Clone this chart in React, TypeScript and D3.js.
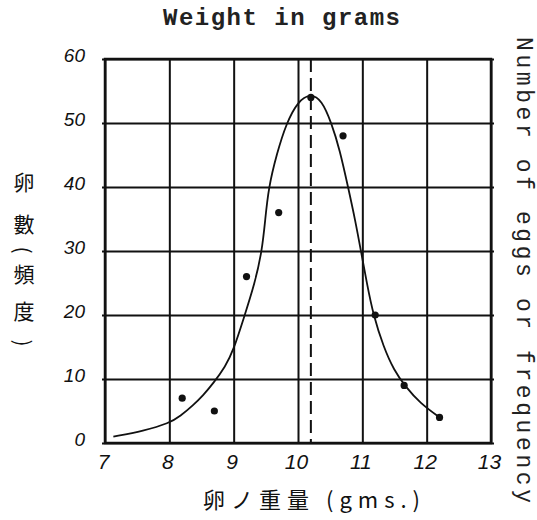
import React, { useEffect, useRef } from 'react';
import * as d3 from 'd3';

// observed egg weights (g) and number of eggs
const weights = [8.2, 8.7, 9.2, 9.7, 10.2, 10.7, 11.2, 11.65, 12.2];
const counts = [7, 5, 26, 36, 54, 48, 20, 9, 4];

// hand drawn frequency curve
const curveWeights = [7.13, 7.6, 8.0, 8.17, 8.37, 8.53, 8.68, 8.87, 9.0, 9.15, 9.33, 9.44, 9.49, 9.54, 9.67, 9.82, 10.0, 10.19, 10.37, 10.52, 10.65, 10.78, 10.89, 10.98, 11.07, 11.17, 11.33, 11.49, 11.67, 11.9, 12.2];
const curveCounts = [1.0, 1.9, 3.1, 4.2, 5.9, 7.5, 9.3, 11.9, 14.6, 19.3, 25, 30, 34.8, 39.8, 45.2, 50, 53.4, 54.6, 53.6, 50, 45.8, 39.9, 34.8, 29.9, 25, 20, 15, 11.4, 8.8, 6.2, 4.0];

const meanWeight = 10.2;

const xTicks = [7, 8, 9, 10, 11, 12, 13];
const yTicks = [0, 10, 20, 30, 40, 50, 60];

const title = 'Weight in grams';
const rightLabel = 'Number of eggs or frequency';
const xLabel = '卵ノ重量 (gms.)';
const yLabelChars = ['卵', '數', '(', '頻', '度', ')'];

const width = 537;
const height = 520;
const margin = { top: 59, right: 46, bottom: 77, left: 105 };

const handFont = '"Liberation Sans", sans-serif';
const monoFont = '"Liberation Mono", "DejaVu Sans Mono", monospace';
const cjkFont = '"Noto Sans CJK JP", sans-serif';

const App = () => {
  const ref = useRef(null);

  useEffect(() => {
    const innerWidth = width - margin.left - margin.right;
    const innerHeight = height - margin.top - margin.bottom;

    const svgRef = d3.select(ref.current);
    svgRef.selectAll('*').remove();

    const x = d3.scaleLinear().domain([7, 13]).range([0, innerWidth]);
    const y = d3.scaleLinear().domain([0, 60]).range([innerHeight, 0]);

    svgRef.append('rect').attr('width', width).attr('height', height).attr('fill', '#fff');

    const svg = svgRef.append('g').attr('transform', `translate(${margin.left}, ${margin.top})`);

    // vertical grid + x labels
    const xAxis = svg.append('g')
      .attr('transform', `translate(0, ${innerHeight})`)
      .call(d3.axisBottom(x).tickValues(xTicks).tickFormat(d3.format('d'))
        .tickSize(-innerHeight).tickSizeOuter(0).tickPadding(11));
    xAxis.select('.domain').remove();
    xAxis.selectAll('line').attr('stroke', '#111').attr('stroke-width', 2);
    xAxis.selectAll('text')
      .attr('fill', '#111')
      .attr('font-family', handFont)
      .attr('font-style', 'italic')
      .attr('font-size', 21)
      .attr('dx', -2);

    // horizontal grid + y labels
    const yAxis = svg.append('g')
      .call(d3.axisLeft(y).tickValues(yTicks).tickSize(-innerWidth - 3).tickSizeOuter(0).tickPadding(20));
    yAxis.select('.domain').remove();
    yAxis.selectAll('line').attr('stroke', '#111').attr('stroke-width', 2).attr('x1', -3);
    yAxis.selectAll('text')
      .attr('fill', '#111')
      .attr('font-family', handFont)
      .attr('font-style', 'italic')
      .attr('font-size', 19)
      .attr('dy', '0.15em');

    // frame
    svg.append('rect')
      .attr('width', innerWidth)
      .attr('height', innerHeight)
      .attr('fill', 'none')
      .attr('stroke', '#111')
      .attr('stroke-width', 2.5);

    // mean weight, dashed
    svg.append('line')
      .attr('x1', x(meanWeight)).attr('x2', x(meanWeight))
      .attr('y1', y(60)).attr('y2', y(0))
      .attr('stroke', '#111')
      .attr('stroke-width', 2)
      .attr('stroke-dasharray', '13,6');

    // frequency curve (basis smooths the hand readings)
    const line = d3.line()
      .x((d) => x(d[0]))
      .y((d) => y(d[1]))
      .curve(d3.curveBasis);
    svg.append('path')
      .datum(curveWeights.map((w, i) => [w, curveCounts[i]]))
      .attr('fill', 'none')
      .attr('stroke', '#111')
      .attr('stroke-width', 1.8)
      .attr('d', line);

    // observed points
    svg.selectAll('.pt')
      .data(weights.map((w, i) => [w, counts[i]]))
      .join('circle')
      .attr('cx', (d) => x(d[0]))
      .attr('cy', (d) => y(d[1]))
      .attr('r', 3.6)
      .attr('fill', '#111');

    // title
    svgRef.append('text')
      .attr('x', 163)
      .attr('y', 25)
      .attr('textLength', 237)
      .attr('lengthAdjust', 'spacing')
      .attr('font-family', monoFont)
      .attr('font-weight', 'bold')
      .attr('font-size', 24)
      .attr('fill', '#222')
      .text(title);

    // right label, rotated
    svgRef.append('text')
      .attr('transform', `translate(517, 37) rotate(90)`)
      .attr('textLength', 466)
      .attr('lengthAdjust', 'spacing')
      .attr('font-family', monoFont)
      .attr('font-size', 23)
      .attr('fill', '#222')
      .text(rightLabel);

    // x label
    svgRef.append('text')
      .attr('x', 203)
      .attr('y', 508)
      .attr('textLength', 217)
      .attr('lengthAdjust', 'spacing')
      .attr('font-family', cjkFont)
      .attr('font-size', 22)
      .attr('fill', '#111')
      .text(xLabel);

    // y label, vertical (brackets turned sideways)
    const yLabelPos = [181, 223, 250, 273, 310, 343];
    svgRef.append('g')
      .selectAll('text')
      .data(yLabelChars)
      .join('text')
      .attr('transform', (d, i) => `translate(24, ${yLabelPos[i]})` + (d === '(' || d === ')' ? ' rotate(90)' : ''))
      .attr('text-anchor', 'middle')
      .attr('dominant-baseline', 'central')
      .attr('font-family', cjkFont)
      .attr('font-size', 21)
      .attr('fill', '#111')
      .text((d) => d);
  }, []);

  return (
    <svg ref={ref} width={width} height={height} style={{ position: 'absolute', left: 0, top: 0 }}></svg>
  );
};

export default App;
